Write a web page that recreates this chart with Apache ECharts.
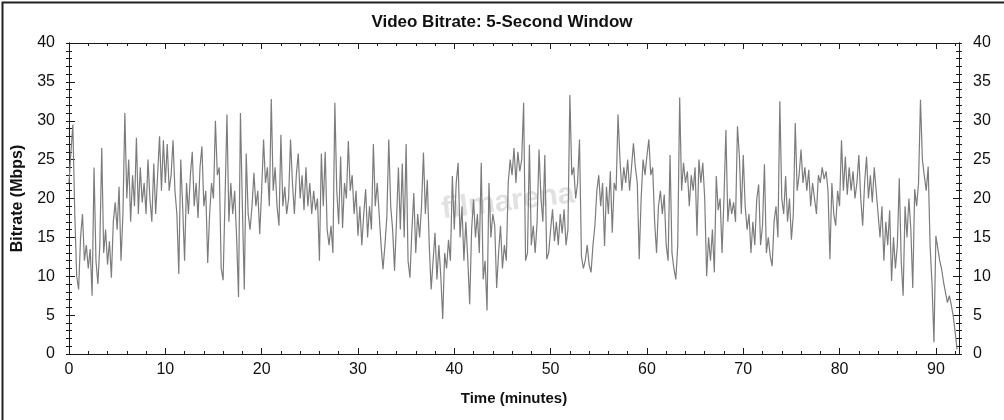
<!DOCTYPE html>
<html>
<head>
<meta charset="utf-8">
<script src="https://cdn.jsdelivr.net/npm/echarts@6/dist/echarts.min.js"></script>
<style>
html,body{margin:0;padding:0;background:#fff;}
#chart{width:1004px;height:420px;}
</style>
</head>
<body>
<div id="chart"></div>
<script>
// Chart text
const chartTitle = 'Video Bitrate: 5-Second Window';
const xAxisName = 'Time (minutes)';
const yAxisName = 'Bitrate (Mbps)';

// Axis ranges / ticks
const xTickLabels = [0, 10, 20, 30, 40, 50, 60, 70, 80, 90];
const yTickLabels = [0, 5, 10, 15, 20, 25, 30, 35, 40];
const xMaxMinutes = 92.4;

// Samples every 0.2 minutes, starting at 0
const stepMinutes = 0.2;
const bitrateMbps = [
  22, 26, 29.5, 18, 10, 8.3, 15, 18, 12, 14,
  11, 13.5, 7.5, 24, 12, 9, 14, 26.5, 13, 16,
  11.5, 14.5, 9.8, 17, 19.5, 16, 21.5, 12, 18, 31,
  20, 25, 17, 23, 19, 27.8, 18, 24, 19.5, 22,
  18, 25, 20, 17, 24.5, 18, 23, 28, 21, 27.5,
  22, 27, 21, 23, 27.5, 21, 18, 10.3, 25, 19,
  12, 22, 18, 23, 26, 19, 22, 17.5, 24, 26.7,
  19, 21, 11.7, 18, 22, 20, 30, 23, 24, 11,
  9.5, 20, 30.8, 17, 22, 18, 21, 15, 7.3, 31,
  19, 8.3, 25.8, 18, 16, 19, 23.3, 19, 21, 15.4,
  21, 27.6, 22, 24, 19, 32.8, 21, 24, 19, 16.5,
  28.2, 19, 21.5, 18, 20, 27.6, 22, 18, 23, 25.8,
  20, 23, 18.5, 24, 19, 22, 18, 21, 18.5, 20,
  12, 25.8, 19, 26, 16, 14, 16.5, 13, 32.3, 21,
  16.7, 25.4, 16.2, 22, 20, 27.4, 21, 23, 18, 21,
  15.2, 19, 14, 18, 21.2, 15, 19, 16, 27, 19,
  22, 18, 14, 10.9, 14, 17.7, 27.6, 19, 16, 10.7,
  17, 24, 16, 24.5, 15, 27, 12, 9.8, 16, 20.7,
  13, 18, 15, 19, 25.9, 18, 22.4, 14, 8.3, 12,
  15.6, 9.6, 14, 10, 4.5, 13, 11, 14.7, 12, 22.9,
  16, 22, 24.6, 15, 19, 12, 17, 12.2, 6.4, 16,
  19.9, 15, 18, 13, 24.6, 9.6, 12, 5.6, 22, 15,
  18, 16.5, 8.5, 13, 16.5, 11, 14, 12, 22, 25,
  23, 26.5, 22, 26, 23.5, 25, 32.3, 12, 13, 26.9,
  14, 16.5, 13, 17, 26.3, 20, 17, 25.6, 12.2, 13,
  16, 18.6, 14.5, 17, 14, 18, 15.5, 18.6, 14, 16,
  33.3, 23, 24, 20, 22, 27.6, 12.6, 11, 12, 14,
  11.5, 10.5, 14, 16.5, 21, 23, 19, 22, 13.9, 21.5,
  18, 23.5, 15.6, 22, 21, 30.8, 25, 21, 24, 22,
  25, 21, 24, 27.1, 24, 22, 12.2, 20, 25, 23,
  25.5, 27.6, 23, 24, 17, 13, 19, 21, 18, 20.5,
  14, 12, 25.6, 13, 11, 9.6, 14, 33, 21, 24.6,
  22, 23.5, 19, 23, 21, 24, 15.2, 25, 22, 24.6,
  20, 10, 15, 12, 16, 10.5, 22.9, 18.5, 20, 13,
  20, 28.8, 17, 20, 18, 19.5, 17, 29.3, 25.4, 18,
  25.6, 19, 16, 18, 13, 17, 14, 19.9, 21.8, 14,
  16.5, 24.4, 13, 15, 12.6, 11.3, 17, 19, 15, 32.5,
  20, 18, 22.9, 17, 20, 14.7, 18, 29.7, 21, 23,
  26.3, 22, 24, 21, 23.7, 19, 22, 20, 18, 23,
  22, 24, 22.5, 23.5, 21, 12.2, 22, 18, 16.5, 21,
  19, 27.5, 21, 25.4, 20.5, 24, 21, 23.5, 20, 22,
  25.6, 20, 16.5, 22, 25.4, 20, 23, 19.5, 24, 21,
  18, 15, 19, 12, 17, 14, 18.5, 9.4, 15, 11,
  14, 22.6, 12, 7.5, 19, 15, 20, 16, 8.5, 21.2,
  19, 22, 32.7, 25, 22.9, 21, 24.1, 13.9, 9, 1.5,
  15.2, 15, 12, 10.9, 9.2, 7.9, 6.6, 7.5, 6.3, 4.9,
  2.8, 0.6
];

const seriesData = bitrateMbps.map((v, i) => [Math.round(i * stepMinutes * 10) / 10, v]);

const FONT = '"Liberation Sans", Arial, sans-serif';
const AX = '#1a1a1a';
const xStep = xTickLabels[1] - xTickLabels[0];
const yStep = yTickLabels[1] - yTickLabels[0];

const chart = echarts.init(document.getElementById('chart'), null, {renderer: 'canvas'});

function xAxisCfg(pos, showLabel, extra) {
  return Object.assign({
    type: 'value', position: pos, min: xTickLabels[0], max: xMaxMinutes, interval: xStep,
    axisLine: {show: true, onZero: false, lineStyle: {color: AX, width: 1}},
    axisTick: {show: true, inside: true, length: 6, lineStyle: {color: AX}},
    minorTick: {show: true, splitNumber: 5, length: 3, lineStyle: {color: AX}},
    splitLine: {show: false},
    axisLabel: {show: showLabel, color: '#111', fontFamily: FONT, fontSize: 16, margin: 8,
      formatter: v => (xTickLabels.indexOf(v) >= 0 ? String(v) : '')}
  }, extra || {});
}
function yAxisCfg(pos, showLabel, inside, extra) {
  return Object.assign({
    type: 'value', position: pos, min: yTickLabels[0], max: yTickLabels[yTickLabels.length - 1], interval: yStep,
    axisLine: {show: true, onZero: false, lineStyle: {color: AX, width: 1}},
    axisTick: {show: true, inside: inside, length: inside ? 6 : 3, lineStyle: {color: AX}},
    minorTick: {show: true, splitNumber: 5, length: 3, lineStyle: {color: AX}},
    splitLine: {show: false},
    axisLabel: {show: showLabel, color: '#111', fontFamily: FONT, fontSize: 16, margin: 14}
  }, extra || {});
}

chart.setOption({
  animation: false,
  backgroundColor: '#ffffff',
  title: {
    text: chartTitle, left: 'center', top: 9,
    textStyle: {fontFamily: FONT, fontWeight: 'bold', fontSize: 17, color: '#111'}
  },
  grid: {left: 69, right: 45, top: 43, bottom: 66, containLabel: false},
  xAxis: [
    xAxisCfg('bottom', true, {name: xAxisName, nameLocation: 'middle', nameGap: 37,
      nameTextStyle: {fontFamily: FONT, fontWeight: 'bold', fontSize: 15, color: '#111'}}),
    xAxisCfg('top', false)
  ],
  yAxis: [
    yAxisCfg('left', true, false, {name: yAxisName, nameLocation: 'middle', nameGap: 43, nameRotate: 90,
      nameTextStyle: {fontFamily: FONT, fontWeight: 'bold', fontSize: 16, color: '#111'}}),
    yAxisCfg('left', false, true),
    yAxisCfg('right', true, false),
    yAxisCfg('right', false, true)
  ],
  graphic: [
    {type: 'rect', left: 0, top: 0, shape: {x: 0, y: 0, width: 1003, height: 419},
      style: {fill: 'none', stroke: '#222', lineWidth: 2}, silent: true, z: 100},
    {type: 'text', x: 440, y: 195, rotation: 0.12, z: 0,
      style: {text: 'filmarena', fill: 'rgba(200,200,200,0.55)', font: 'bold 30px ' + FONT}}
  ],
  series: [{
    type: 'line', xAxisIndex: 0, yAxisIndex: 0, data: seriesData,
    showSymbol: false, symbol: 'none', z: 5,
    lineStyle: {color: '#7c7c7c', width: 1.2}
  }]
});
</script>
</body>
</html>
